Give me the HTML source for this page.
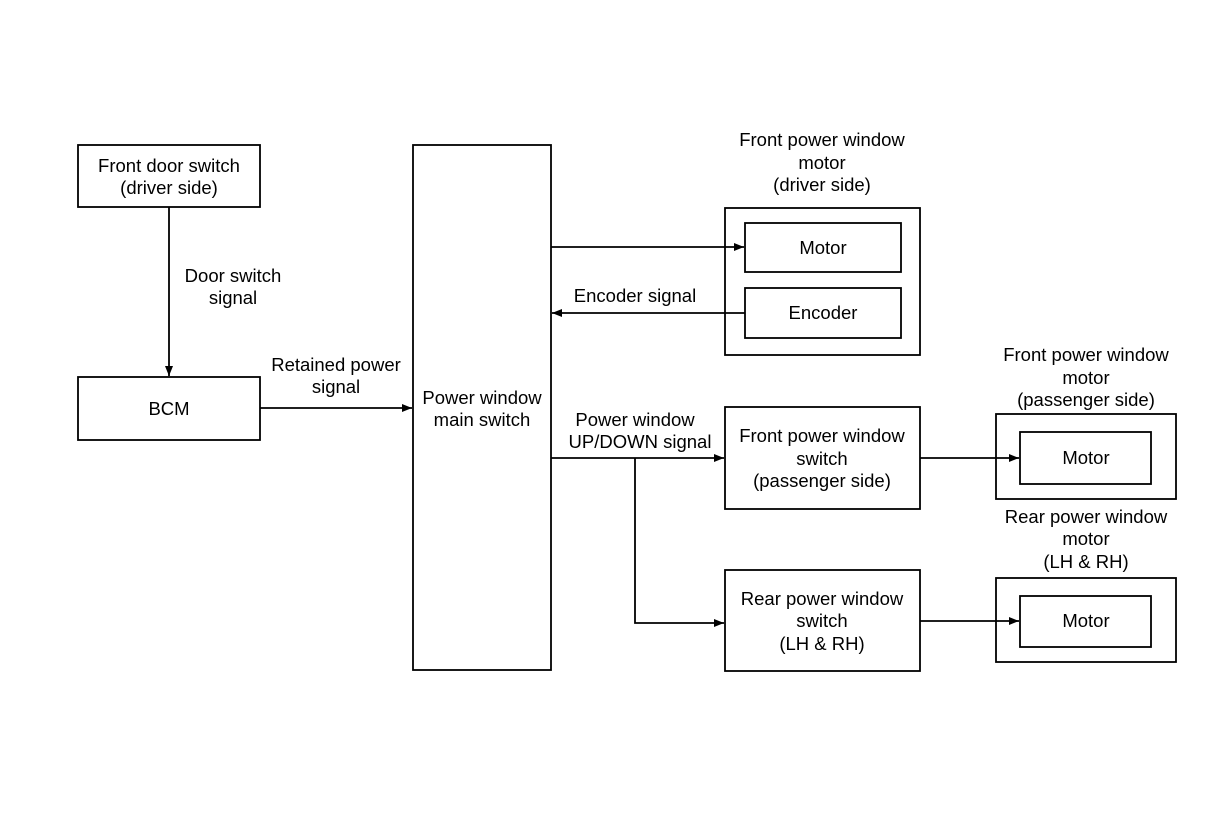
<!DOCTYPE html>
<html><head><style>
body{margin:0;background:#fff;}
svg text{font-family:"Liberation Sans",Arial,sans-serif;font-size:18.5px;fill:#000;}
</style></head><body>
<svg width="1216" height="822" viewBox="0 0 1216 822" xmlns="http://www.w3.org/2000/svg">
<defs><marker id="a" markerWidth="10" markerHeight="8" refX="10" refY="4" orient="auto" markerUnits="userSpaceOnUse"><path d="M0,0 L10,4 L0,8 z" fill="#000"/></marker></defs>
<g fill="none" stroke="#000" stroke-width="1.8">
<rect x="78" y="145" width="182" height="62"/>
<rect x="78" y="377" width="182" height="63"/>
<rect x="413" y="145" width="138" height="525"/>
<rect x="725" y="208" width="195" height="147"/>
<rect x="745" y="223" width="156" height="49"/>
<rect x="745" y="288" width="156" height="50"/>
<rect x="725" y="407" width="195" height="102"/>
<rect x="725" y="570" width="195" height="101"/>
<rect x="996" y="414" width="180" height="85"/>
<rect x="1020" y="432" width="131" height="52"/>
<rect x="996" y="578" width="180" height="84"/>
<rect x="1020" y="596" width="131" height="51"/>
<line x1="169" y1="207" x2="169" y2="376" marker-end="url(#a)"/>
<line x1="260" y1="408" x2="412" y2="408" marker-end="url(#a)"/>
<line x1="551" y1="247" x2="744" y2="247" marker-end="url(#a)"/>
<line x1="745" y1="313" x2="552" y2="313" marker-end="url(#a)"/>
<line x1="551" y1="458" x2="724" y2="458" marker-end="url(#a)"/>
<polyline points="635,458 635,623 724,623" marker-end="url(#a)"/>
<line x1="920" y1="458" x2="1019" y2="458" marker-end="url(#a)"/>
<line x1="920" y1="621" x2="1019" y2="621" marker-end="url(#a)"/>
</g>
<g text-anchor="middle">
<text x="169" y="172">Front door switch</text><text x="169" y="194">(driver side)</text>
<text x="169" y="415">BCM</text>
<text x="233" y="282">Door switch</text><text x="233" y="304">signal</text>
<text x="336" y="371">Retained power</text><text x="336" y="393">signal</text>
<text x="482" y="404">Power window</text><text x="482" y="426">main switch</text>
<text x="822" y="146">Front power window</text><text x="822" y="169">motor</text><text x="822" y="191">(driver side)</text>
<text x="823" y="254">Motor</text><text x="823" y="319">Encoder</text>
<text x="635" y="302">Encoder signal</text>
<text x="635" y="426">Power window</text><text x="640" y="448">UP/DOWN signal</text>
<text x="822" y="442">Front power window</text><text x="822" y="465">switch</text><text x="822" y="487">(passenger side)</text>
<text x="822" y="605">Rear power window</text><text x="822" y="627">switch</text><text x="822" y="650">(LH &amp; RH)</text>
<text x="1086" y="361">Front power window</text><text x="1086" y="384">motor</text><text x="1086" y="406">(passenger side)</text>
<text x="1086" y="464">Motor</text>
<text x="1086" y="523">Rear power window</text><text x="1086" y="545">motor</text><text x="1086" y="568">(LH &amp; RH)</text>
<text x="1086" y="627">Motor</text>
</g>
</svg>
</body></html>
